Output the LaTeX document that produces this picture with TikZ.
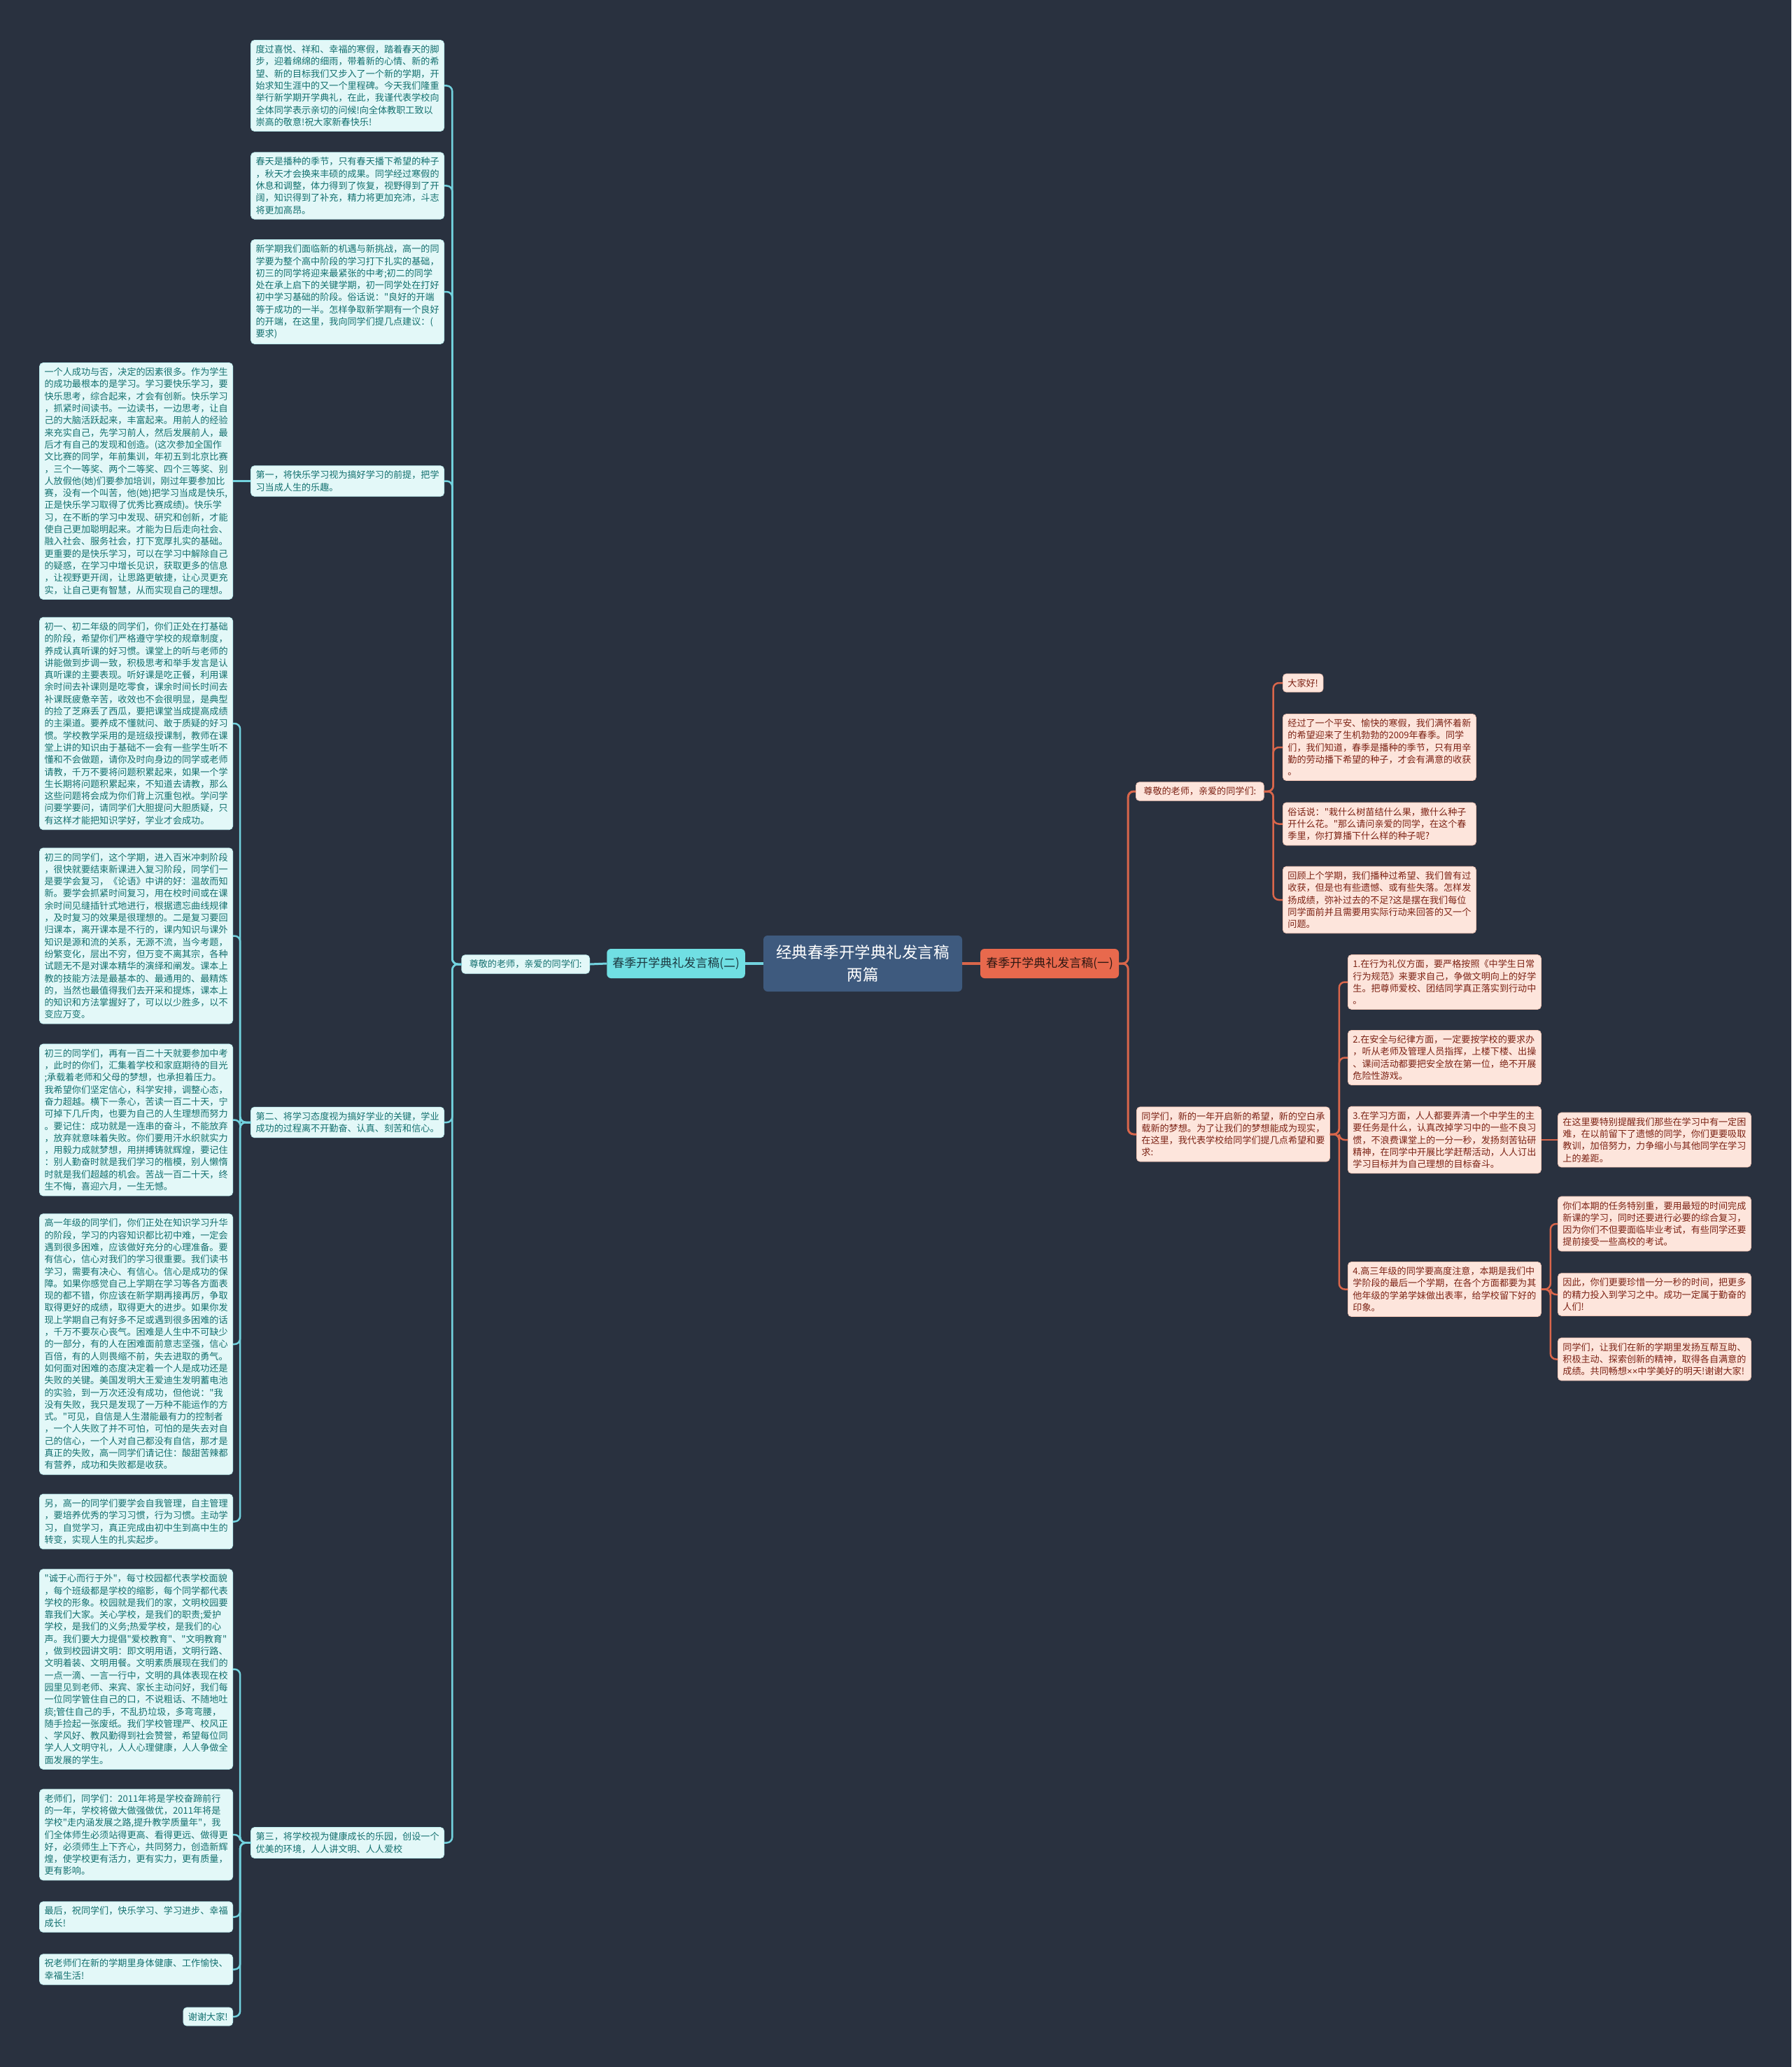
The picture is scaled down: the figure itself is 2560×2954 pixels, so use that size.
\documentclass[tikz,border=0pt]{standalone}
\usepackage{fontspec}
\setmainfont{Noto Sans CJK SC}[Ligatures=TeXOff]
\newfontfamily\latinfont{Liberation Sans}
\definecolor{bg}{HTML}{29313F}
\definecolor{lfill}{HTML}{E3F8F8}
\definecolor{lborder}{HTML}{BDEDEF}
\definecolor{ltext}{HTML}{13706F}
\definecolor{lline}{HTML}{72D2DE}
\definecolor{rfill}{HTML}{FDE5DC}
\definecolor{rborder}{HTML}{F3C6B6}
\definecolor{rtext}{HTML}{7C2214}
\definecolor{rline}{HTML}{D9664B}
\definecolor{cfill}{HTML}{3E5A7E}
\definecolor{lmfill}{HTML}{70DFE3}
\definecolor{lmtext}{HTML}{1C3A42}
\definecolor{rmfill}{HTML}{E8694D}
\definecolor{rmtext}{HTML}{2E1712}
\tikzset{
  leafbase/.style={rounded corners=5pt, inner xsep=7pt, inner ysep=7pt, align=left,
    font=\fontsize{13.1}{17.3}\selectfont, line width=0.8pt},
  lleaf/.style={leafbase, draw=lborder, fill=lfill, text=ltext},
  rleaf/.style={leafbase, draw=rborder, fill=rfill, text=rtext},
  lwide/.style={lleaf, text width=262pt},
  rwide/.style={rleaf, text width=262pt},
  lcon/.style={draw=lline, line width=2.5pt, rounded corners=8pt},
  rcon/.style={draw=rline, line width=2.5pt, rounded corners=8pt},
  mainnode/.style={rounded corners=6pt, inner xsep=8pt, minimum height=42pt,
    font=\fontsize{17}{20}\selectfont},
}
\begin{document}
\begin{tikzpicture}[x=1pt,y=-1pt]
\useasboundingbox (0,0) rectangle (2560,2954);
\fill[bg] (0,0) rectangle (2560,2954);

% ---------- center and main branches ----------
\node[rounded corners=6pt, fill=cfill, text=white, align=center, minimum width=284pt,
  minimum height=80pt, font=\fontsize{22.5}{32}\selectfont] (C) at (1233,1377)
  {经典春季开学典礼发言稿\\两篇};
\node[mainnode, fill=lmfill, text=lmtext, minimum width=196pt] (LM) at (966,1377) {春季开学典礼发言稿(二)};
\node[mainnode, fill=rmfill, text=rmtext, minimum width=198pt] (RM) at (1500,1377) {春季开学典礼发言稿(一)};

% ---------- left side ----------
\node[lleaf, inner xsep=11pt, anchor=east] (LZ) at (843,1378) {尊敬的老师，亲爱的同学们:};

\node[lwide, anchor=east] (T1) at (635,122.5) {度过喜悦、祥和、幸福的寒假，踏着春天的脚\\步，迎着绵绵的细雨，带着新的心情、新的希\\望、新的目标我们又步入了一个新的学期，开\\始求知生涯中的又一个里程碑。今天我们隆重\\举行新学期开学典礼，在此，我谨代表学校向\\全体同学表示亲切的问候!向全体教职工致以\\崇高的敬意!祝大家新春快乐!};
\node[lwide, anchor=east] (T2) at (635,265.5) {春天是播种的季节，只有春天播下希望的种子\\，秋天才会换来丰硕的成果。同学经过寒假的\\休息和调整，体力得到了恢复，视野得到了开\\阔，知识得到了补充，精力将更加充沛，斗志\\将更加高昂。};
\node[lwide, anchor=east] (T3) at (635,417) {新学期我们面临新的机遇与新挑战，高一的同\\学要为整个高中阶段的学习打下扎实的基础，\\初三的同学将迎来最紧张的中考;初二的同学\\处在承上启下的关键学期，初一同学处在打好\\初中学习基础的阶段。俗话说："良好的开端\\等于成功的一半。怎样争取新学期有一个良好\\的开端，在这里，我向同学们提几点建议：(\\要求)};
\node[lwide, anchor=east] (N1) at (635,687.5) {第一，将快乐学习视为搞好学习的前提，把学\\习当成人生的乐趣。};
\node[lwide, anchor=east] (N2) at (635,1604) {第二、将学习态度视为搞好学业的关键，学业\\成功的过程离不开勤奋、认真、刻苦和信心。};
\node[lwide, anchor=east] (N3) at (635,2633.5) {第三，将学校视为健康成长的乐园，创设一个\\优美的环境，人人讲文明、人人爱校};

\node[lwide, anchor=east] (L1) at (333,687.5) {一个人成功与否，决定的因素很多。作为学生\\的成功最根本的是学习。学习要快乐学习，要\\快乐思考，综合起来，才会有创新。快乐学习\\，抓紧时间读书。一边读书，一边思考，让自\\己的大脑活跃起来，丰富起来。用前人的经验\\来充实自己，先学习前人，然后发展前人，最\\后才有自己的发现和创造。(这次参加全国作\\文比赛的同学，年前集训，年初五到北京比赛\\，三个一等奖、两个二等奖、四个三等奖、别\\人放假他(她)们要参加培训，刚过年要参加比\\赛，没有一个叫苦，他(她)把学习当成是快乐,\\正是快乐学习取得了优秀比赛成绩)。快乐学\\习，在不断的学习中发现、研究和创新，才能\\使自己更加聪明起来。才能为日后走向社会、\\融入社会、服务社会，打下宽厚扎实的基础。\\更重要的是快乐学习，可以在学习中解除自己\\的疑惑，在学习中增长见识，获取更多的信息\\，让视野更开阔，让思路更敏捷，让心灵更充\\实，让自己更有智慧，从而实现自己的理想。};
\node[lwide, anchor=east] (L2) at (333,1034) {初一、初二年级的同学们，你们正处在打基础\\的阶段，希望你们严格遵守学校的规章制度，\\养成认真听课的好习惯。课堂上的听与老师的\\讲能做到步调一致，积极思考和举手发言是认\\真听课的主要表现。听好课是吃正餐，利用课\\余时间去补课则是吃零食，课余时间长时间去\\补课既疲惫辛苦，收效也不会很明显，是典型\\的捡了芝麻丢了西瓜，要把课堂当成提高成绩\\的主渠道。要养成不懂就问、敢于质疑的好习\\惯。学校教学采用的是班级授课制，教师在课\\堂上讲的知识由于基础不一会有一些学生听不\\懂和不会做题，请你及时向身边的同学或老师\\请教，千万不要将问题积累起来，如果一个学\\生长期将问题积累起来，不知道去请教，那么\\这些问题将会成为你们背上沉重包袱。学问学\\问要学要问，请同学们大胆提问大胆质疑，只\\有这样才能把知识学好，学业才会成功。};
\node[lwide, anchor=east] (L3) at (333,1337.5) {初三的同学们，这个学期，进入百米冲刺阶段\\，很快就要结束新课进入复习阶段，同学们一\\是要学会复习，《论语》中讲的好：温故而知\\新。要学会抓紧时间复习，用在校时间或在课\\余时间见缝插针式地进行，根据遗忘曲线规律\\，及时复习的效果是很理想的。二是复习要回\\归课本，离开课本是不行的，课内知识与课外\\知识是源和流的关系，无源不流，当今考题，\\纷繁变化，层出不穷，但万变不离其宗，各种\\试题无不是对课本精华的演绎和阐发。课本上\\教的技能方法是最基本的、最通用的、最精炼\\的，当然也最值得我们去开采和提炼，课本上\\的知识和方法掌握好了，可以以少胜多，以不\\变应万变。};
\node[lwide, anchor=east] (L5) at (333,1600.5) {初三的同学们，再有一百二十天就要参加中考\\，此时的你们，汇集着学校和家庭期待的目光\\;承载着老师和父母的梦想，也承担着压力。\\我希望你们坚定信心，科学安排，调整心态，\\奋力超越。横下一条心，苦读一百二十天，宁\\可掉下几斤肉，也要为自己的人生理想而努力\\。要记住：成功就是一连串的奋斗，不能放弃\\，放弃就意味着失败。你们要用汗水织就实力\\，用毅力成就梦想，用拼搏铸就辉煌，要记住\\：别人勤奋时就是我们学习的楷模，别人懒惰\\时就是我们超越的机会。苦战一百二十天，终\\生不悔，喜迎六月，一生无憾。};
\node[lwide, anchor=east] (L6) at (333,1921) {高一年级的同学们，你们正处在知识学习升华\\的阶段，学习的内容知识都比初中难，一定会\\遇到很多困难，应该做好充分的心理准备。要\\有信心，信心对我们的学习很重要。我们读书\\学习，需要有决心、有信心。信心是成功的保\\障。如果你感觉自己上学期在学习等各方面表\\现的都不错，你应该在新学期再接再厉，争取\\取得更好的成绩，取得更大的进步。如果你发\\现上学期自己有好多不足或遇到很多困难的话\\，千万不要灰心丧气。困难是人生中不可缺少\\的一部分，有的人在困难面前意志坚强，信心\\百倍，有的人则畏缩不前，失去进取的勇气。\\如何面对困难的态度决定着一个人是成功还是\\失败的关键。美国发明大王爱迪生发明蓄电池\\的实验，到一万次还没有成功，但他说："我\\没有失败，我只是发现了一万种不能运作的方\\式。"可见，自信是人生潜能最有力的控制者\\，一个人失败了并不可怕，可怕的是失去对自\\己的信心，一个人对自己都没有自信，那才是\\真正的失败，高一同学们请记住：酸甜苦辣都\\有营养，成功和失败都是收获。};
\node[lwide, anchor=east] (L7) at (333,2174.5) {另，高一的同学们要学会自我管理，自主管理\\，要培养优秀的学习习惯，行为习惯。主动学\\习，自觉学习，真正完成由初中生到高中生的\\转变，实现人生的扎实起步。};
\node[lwide, anchor=east] (L8) at (333,2385.5) {"诚于心而行于外"，每寸校园都代表学校面貌\\，每个班级都是学校的缩影，每个同学都代表\\学校的形象。校园就是我们的家，文明校园要\\靠我们大家。关心学校，是我们的职责;爱护\\学校，是我们的义务;热爱学校，是我们的心\\声。我们要大力提倡"爱校教育"、"文明教育"\\，做到校园讲文明：即文明用语，文明行路、\\文明着装、文明用餐。文明素质展现在我们的\\一点一滴、一言一行中，文明的具体表现在校\\园里见到老师、来宾、家长主动问好，我们每\\一位同学管住自己的口，不说粗话、不随地吐\\痰;管住自己的手，不乱扔垃圾，多弯弯腰，\\随手捡起一张废纸。我们学校管理严、校风正\\、学风好、教风勤得到社会赞誉，希望每位同\\学人人文明守礼，人人心理健康，人人争做全\\面发展的学生。};
\node[lwide, anchor=east] (L9) at (333,2622) {老师们，同学们：2011年将是学校奋蹄前行\\的一年，学校将做大做强做优，2011年将是\\学校"走内涵发展之路,提升教学质量年"，我\\们全体师生必须站得更高、看得更远、做得更\\好，必须师生上下齐心，共同努力，创造新辉\\煌，使学校更有活力，更有实力，更有质量，\\更有影响。};
\node[lwide, anchor=east] (L10) at (333,2739.5) {最后，祝同学们，快乐学习、学习进步、幸福\\成长!};
\node[lwide, anchor=east] (L11) at (333,2814.5) {祝老师们在新的学期里身体健康、工作愉快、\\幸福生活!};
\node[lleaf, anchor=east] (L12) at (333,2882) {谢谢大家!};

% ---------- right side ----------
\node[rleaf, inner xsep=11pt, anchor=west] (R1) at (1623,1131) {尊敬的老师，亲爱的同学们:};
\node[rleaf, anchor=west] (RA) at (1833,976) {大家好!};
\node[rwide, anchor=west] (RB) at (1833,1068) {经过了一个平安、愉快的寒假，我们满怀着新\\的希望迎来了生机勃勃的2009年春季。同学\\们，我们知道，春季是播种的季节，只有用辛\\勤的劳动播下希望的种子，才会有满意的收获\\。};
\node[rwide, anchor=west] (RC) at (1833,1177.5) {俗话说："栽什么树苗结什么果，撒什么种子\\开什么花。"那么请问亲爱的同学，在这个春\\季里，你打算播下什么样的种子呢?};
\node[rwide, anchor=west] (RD) at (1833,1286) {回顾上个学期，我们播种过希望、我们曾有过\\收获，但是也有些遗憾、或有些失落。怎样发\\扬成绩，弥补过去的不足?这是摆在我们每位\\同学面前并且需要用实际行动来回答的又一个\\问题。};

\node[rwide, anchor=west] (R2) at (1624,1621) {同学们，新的一年开启新的希望，新的空白承\\载新的梦想。为了让我们的梦想能成为现实，\\在这里，我代表学校给同学们提几点希望和要\\求:};
\node[rwide, anchor=west] (S1) at (1926,1403.5) {1.在行为礼仪方面，要严格按照《中学生日常\\行为规范》来要求自己，争做文明向上的好学\\生。把尊师爱校、团结同学真正落实到行动中\\。};
\node[rwide, anchor=west] (S2) at (1926,1511.5) {2.在安全与纪律方面，一定要按学校的要求办\\，听从老师及管理人员指挥，上楼下楼、出操\\、课间活动都要把安全放在第一位，绝不开展\\危险性游戏。};
\node[rwide, anchor=west] (S3) at (1926,1629) {3.在学习方面，人人都要弄清一个中学生的主\\要任务是什么，认真改掉学习中的一些不良习\\惯，不浪费课堂上的一分一秒，发扬刻苦钻研\\精神，在同学中开展比学赶帮活动，人人订出\\学习目标并为自己理想的目标奋斗。};
\node[rwide, anchor=west] (S4) at (1926,1842.5) {4.高三年级的同学要高度注意，本期是我们中\\学阶段的最后一个学期，在各个方面都要为其\\他年级的学弟学妹做出表率，给学校留下好的\\印象。};
\node[rwide, anchor=west] (U1) at (2226,1629) {在这里要特别提醒我们那些在学习中有一定困\\难，在以前留下了遗憾的同学，你们更要吸取\\教训，加倍努力，力争缩小与其他同学在学习\\上的差距。};
\node[rwide, anchor=west] (U2) at (2226,1749) {你们本期的任务特别重，要用最短的时间完成\\新课的学习，同时还要进行必要的综合复习，\\因为你们不但要面临毕业考试，有些同学还要\\提前接受一些高校的考试。};
\node[rwide, anchor=west] (U3) at (2226,1850) {因此，你们更要珍惜一分一秒的时间，把更多\\的精力投入到学习之中。成功一定属于勤奋的\\人们!};
\node[rwide, anchor=west] (U4) at (2226,1942.5) {同学们，让我们在新的学期里发扬互帮互助、\\积极主动、探索创新的精神，取得各自满意的\\成绩。共同畅想{\latinfont ××}中学美好的明天!谢谢大家!};

% ---------- connectors ----------
\draw[lcon, line width=4pt] (C.west) -- (LM.east);
\draw[rcon, line width=4pt] (C.east) -- (RM.west);
\draw[lcon, line width=3pt] (LM.west) -- (LZ.east);
\foreach \n in {T1,T2,T3,N1,N2,N3}
  \draw[lcon] (LZ.west) -- ++(-13,0) |- (\n.east);
\draw[lcon] (N1.west) -- (L1.east);
\foreach \n in {L2,L3,L5,L6,L7}
  \draw[lcon] (N2.west) -- ++(-15,0) |- (\n.east);
\foreach \n in {L8,L9,L10,L11,L12}
  \draw[lcon] (N3.west) -- ++(-15,0) |- (\n.east);
\foreach \n in {R1,R2}
  \draw[rcon, line width=3pt] (RM.east) -- ++(13,0) |- (\n.west);
\foreach \n in {RA,RB,RC,RD}
  \draw[rcon] (R1.east) -- ++(13,0) |- (\n.west);
\foreach \n in {S1,S2,S3,S4}
  \draw[rcon] (R2.east) -- ++(13,0) |- (\n.west);
\draw[rcon] (S3.east) -- (U1.west);
\foreach \n in {U2,U3,U4}
  \draw[rcon] (S4.east) -- ++(13,0) |- (\n.west);
\end{tikzpicture}
\end{document}
